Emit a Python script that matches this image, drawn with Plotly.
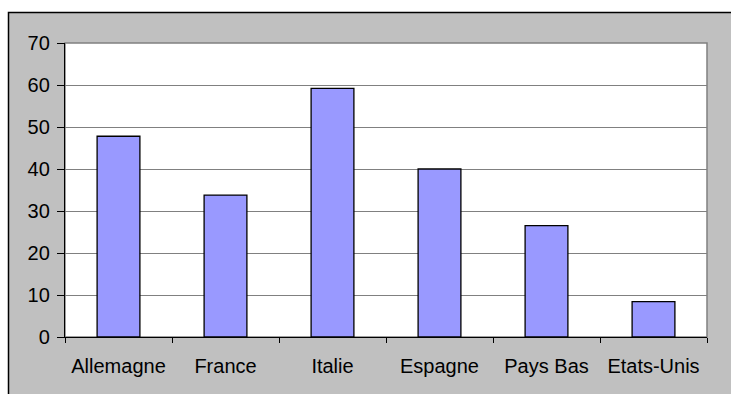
import plotly.graph_objects as go

categories = ["Allemagne", "France", "Italie", "Espagne", "Pays Bas", "Etats-Unis"]
values = [47.8, 33.8, 59.2, 40.0, 26.5, 8.4]
y_ticks = [0, 10, 20, 30, 40, 50, 60, 70]

W, H = 731, 394
L, R, T, B = 65, 24, 43, 57
pw, ph = W - L - R, H - T - B

def px_x(p):
    return (p - L) / pw

def px_y(p):
    return 1 - (p - T) / ph

fig = go.Figure(go.Bar(
    x=categories, y=values,
    marker=dict(color="#9999FF", line=dict(color="black", width=1.3)),
    width=0.4,
))

fig.update_layout(
    width=W, height=H,
    margin=dict(l=L, r=R, t=T, b=B),
    paper_bgcolor="white",
    plot_bgcolor="white",
    font=dict(family="Liberation Sans, Arial, sans-serif", size=20, color="black"),
    showlegend=False,
    shapes=[
        dict(type="rect", xref="paper", yref="paper", layer="below",
             x0=px_x(8.5), x1=px_x(760), y0=px_y(420), y1=px_y(12.5),
             fillcolor="#C0C0C0", line=dict(color="black", width=1.5)),
        dict(type="rect", xref="paper", yref="paper", layer="below",
             x0=0, x1=1, y0=0, y1=1,
             fillcolor="white", line=dict(color="#808080", width=1.5)),
    ],
)

fig.update_yaxes(
    range=[0, 70], tickvals=y_ticks,
    showgrid=True, gridcolor="#808080", gridwidth=1,
    showline=True, linecolor="black", linewidth=1.3,
    ticks="outside", ticklen=7, tickcolor="black", tickwidth=1.3,
    zeroline=False, ticklabelstandoff=3,
)
fig.update_xaxes(
    showline=True, linecolor="black", linewidth=1.3,
    ticks="outside", ticklen=5, tickcolor="black", tickwidth=1.3,
    tickson="boundaries", showgrid=False, ticklabelstandoff=11,
)

fig.write_html("out.html")
